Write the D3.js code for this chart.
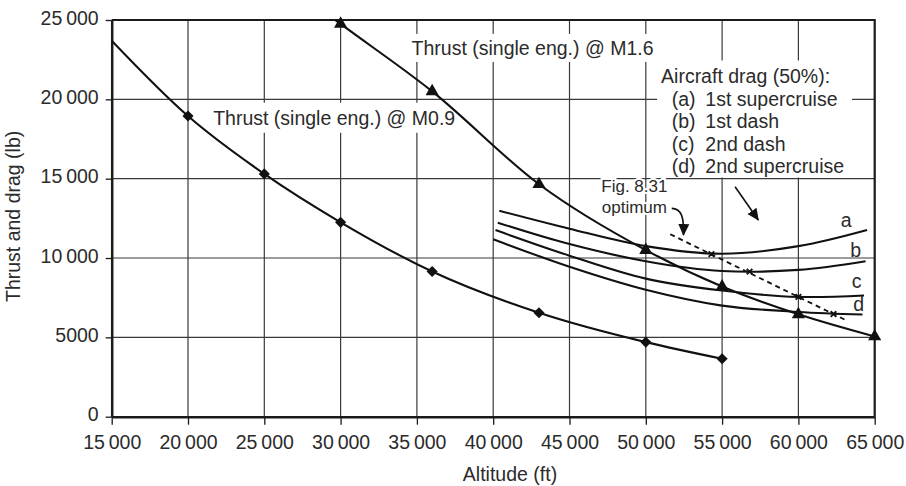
<!DOCTYPE html>
<html>
<head>
<meta charset="utf-8">
<style>
body { margin: 0; background: #fff; }
text { font-family: 'Liberation Sans', Arial, sans-serif; fill: #2b2b2b; }
</style>
</head>
<body>
<script src="https://cdnjs.cloudflare.com/ajax/libs/d3/7.8.5/d3.min.js"></script>
<script>
// axis ticks
const altTicks = [15000, 20000, 25000, 30000, 35000, 40000, 45000, 50000, 55000, 60000, 65000];
const forceTicks = [0, 5000, 10000, 15000, 20000, 25000];

// thrust curves (first point of each is the curve run out to the frame, no marker)
const m09Alt = [15000, 20000, 25000, 30000, 36000, 43000, 50000, 55000];
const m09Thrust = [23700, 18950, 15300, 12250, 9150, 6550, 4700, 3650];
const m16Alt = [29650, 30000, 36000, 43000, 50000, 55000, 60000, 65000];
const m16Thrust = [25000, 24750, 20500, 14650, 10500, 8200, 6450, 5050];

// aircraft drag (50%) curves a-d
const dragLetters = ["a", "b", "c", "d"];
const dragNames = ["1st supercruise", "1st dash", "2nd dash", "2nd supercruise"];
const dragAAlt = [40400, 45000, 50000, 55000, 60000, 64500];
const dragA = [12980, 11850, 10750, 10270, 10750, 11770];
const dragBAlt = [40300, 45000, 50000, 55000, 60000, 64400];
const dragB = [12230, 10880, 9800, 9180, 9250, 9800];
const dragCAlt = [40150, 45000, 50000, 55000, 60000, 64300];
const dragC = [11760, 10150, 8700, 7950, 7550, 7640];
const dragDAlt = [40000, 45000, 50000, 55000, 60000, 64200];
const dragD = [11180, 9450, 8000, 7000, 6600, 6440];

// Fig. 8.31 optimum line and its points
const optLineAlt = [51600, 63100];
const optLineDrag = [11500, 6090];
const optAlt = [54300, 56800, 60000, 62300];
const optDrag = [10250, 9140, 7550, 6470];

const W = 906, H = 486;
const margin = {top: 20, right: 31.3, bottom: 69.3, left: 111.7};

const x = d3.scaleLinear().domain([15000, 65000]).range([margin.left, W - margin.right]);
const y = d3.scaleLinear().domain([0, 25000]).range([H - margin.bottom, margin.top]);

const svg = d3.select("body").append("svg")
    .attr("width", W)
    .attr("height", H);

const defs = svg.append("defs");
defs.append("clipPath").attr("id", "plot")
  .append("rect")
    .attr("x", x(15000)).attr("y", y(25000))
    .attr("width", x(65000) - x(15000)).attr("height", y(0) - y(25000));
defs.append("marker")
    .attr("id", "head")
    .attr("markerUnits", "userSpaceOnUse")
    .attr("viewBox", "0 -6 12 12")
    .attr("refX", 11).attr("refY", 0)
    .attr("markerWidth", 12).attr("markerHeight", 12)
    .attr("orient", "auto")
  .append("path")
    .attr("d", "M0,-5.5L12,0L0,5.5Z")
    .attr("fill", "#111");

const fmt = d => d >= 10000 ? d3.format(",")(d).replace(",", "\u2009") : d3.format("d")(d);

// grid
svg.append("g").selectAll("line")
  .data(altTicks.slice(1, -1))
  .join("line")
    .attr("x1", d => x(d)).attr("x2", d => x(d))
    .attr("y1", y(0)).attr("y2", y(25000))
    .attr("stroke", "#3a3a3a").attr("stroke-width", 1.2);
svg.append("g").selectAll("line")
  .data(forceTicks.slice(1, -1))
  .join("line")
    .attr("x1", x(15000)).attr("x2", x(65000))
    .attr("y1", d => y(d)).attr("y2", d => y(d))
    .attr("stroke", "#3a3a3a").attr("stroke-width", 1.2);

// frame top / right
svg.append("path")
    .attr("d", `M${x(15000)},${y(25000)}H${x(65000)}V${y(0)}`)
    .attr("fill", "none").attr("stroke", "#1a1a1a").attr("stroke-width", 2.2);

// axes
const yAxis = svg.append("g")
    .attr("transform", `translate(${x(15000)},0)`)
    .call(d3.axisLeft(y).tickValues(forceTicks).tickFormat(fmt).tickSize(6).tickSizeOuter(0).tickPadding(7));
const xAxis = svg.append("g")
    .attr("transform", `translate(0,${y(0)})`)
    .call(d3.axisBottom(x).tickValues(altTicks).tickFormat(fmt).tickSize(8).tickSizeOuter(0).tickPadding(10));
[yAxis, xAxis].forEach(a => {
  a.select(".domain").attr("stroke", "#1a1a1a").attr("stroke-width", 2.5);
  a.selectAll(".tick line").attr("stroke", "#1a1a1a").attr("stroke-width", 1.3);
  a.selectAll("text").attr("font-size", "19.5px").attr("font-family", null).attr("fill", "#2b2b2b");
});
yAxis.selectAll("text").attr("dy", "0.22em");

svg.append("text")
    .attr("transform", "translate(19.5,302) rotate(-90)")
    .attr("font-size", "19.5px")
    .text("Thrust and drag (lb)");
svg.append("text")
    .attr("x", 510).attr("y", 481)
    .attr("text-anchor", "middle")
    .attr("font-size", "19.5px")
    .text("Altitude (ft)");

// labels with white backing boxes
function boxed(g, pad) {
  const b = g.node().getBBox();
  g.insert("rect", ":first-child")
      .attr("x", b.x - pad[3]).attr("y", b.y - pad[0])
      .attr("width", b.width + pad[1] + pad[3]).attr("height", b.height + pad[0] + pad[2])
      .attr("fill", "#fff");
}

const lab16 = svg.append("g");
lab16.append("text")
    .attr("x", x(34650)).attr("y", y(22800))
    .attr("font-size", "19.5px")
    .text("Thrust (single eng.) @ M1.6");
boxed(lab16, [3, 4, 3, 5]);

const lab09 = svg.append("g");
lab09.append("text")
    .attr("x", x(21650)).attr("y", y(18400))
    .attr("font-size", "19.5px")
    .text("Thrust (single eng.) @ M0.9");
boxed(lab09, [4, 8, 4, 8]);

const legend = svg.append("g");
legend.append("text")
    .attr("x", x(51000)).attr("y", y(21000))
    .attr("font-size", "19.5px")
    .text("Aircraft drag (50%):");
dragLetters.forEach((l, i) => {
  const row = legend.append("text")
      .attr("y", y(21000) + (i + 1) * 22.5)
      .attr("font-size", "19.5px");
  row.append("tspan").attr("x", x(51700)).text(`(${l})`);
  row.append("tspan").attr("x", x(53900)).text(dragNames[i]);
});
boxed(legend, [5, 8, 0, 4]);

const figLab = svg.append("g").attr("font-size", "17px").attr("text-anchor", "middle");
figLab.append("text").attr("x", x(49250)).attr("y", y(14150)).text("Fig. 8.31");
figLab.append("text").attr("x", x(49250)).attr("y", y(12850)).text("optimum");
figLab.selectAll("text")
    .attr("stroke", "#fff").attr("stroke-width", 4).attr("paint-order", "stroke");

// curves
const line = d3.line().x(d => x(d[0])).y(d => y(d[1])).curve(d3.curveMonotoneX);
const smooth = d3.line().x(d => x(d[0])).y(d => y(d[1])).curve(d3.curveCatmullRom.alpha(0.5));
const plot = svg.append("g").attr("clip-path", "url(#plot)");

const dragSeries = [[dragAAlt, dragA], [dragBAlt, dragB], [dragCAlt, dragC], [dragDAlt, dragD]];
plot.selectAll(".drag")
  .data(dragSeries)
  .join("path")
    .attr("class", "drag")
    .attr("d", s => smooth(d3.zip(s[0], s[1])))
    .attr("fill", "none").attr("stroke", "#111").attr("stroke-width", 2.1);

plot.append("path")
    .attr("d", line(d3.zip(m09Alt, m09Thrust)))
    .attr("fill", "none").attr("stroke", "#111").attr("stroke-width", 2.1);
plot.append("path")
    .attr("d", line(d3.zip(m16Alt, m16Thrust)))
    .attr("fill", "none").attr("stroke", "#111").attr("stroke-width", 2.1);

plot.append("path")
    .attr("d", d3.line().x(d => x(d[0])).y(d => y(d[1]))(d3.zip(optLineAlt, optLineDrag)))
    .attr("fill", "none").attr("stroke", "#111").attr("stroke-width", 1.8)
    .attr("stroke-dasharray", "5,4");

svg.append("g").selectAll("path")
  .data(d3.zip(optAlt, optDrag))
  .join("path")
    .attr("transform", d => `translate(${x(d[0])},${y(d[1])})`)
    .attr("d", d3.symbol(d3.symbolX, 22))
    .attr("fill", "none").attr("stroke", "#111").attr("stroke-width", 1.8);

svg.append("g").selectAll("path")
  .data(d3.zip(m09Alt, m09Thrust).slice(1))
  .join("path")
    .attr("transform", d => `translate(${x(d[0])},${y(d[1])}) rotate(45)`)
    .attr("d", d3.symbol(d3.symbolSquare, 62))
    .attr("fill", "#111");

svg.append("g").selectAll("path")
  .data(d3.zip(m16Alt, m16Thrust).slice(1))
  .join("path")
    .attr("transform", d => `translate(${x(d[0])},${y(d[1])})`)
    .attr("d", d3.symbol(d3.symbolTriangle, 75))
    .attr("fill", "#111");

// curve letters
const letterAt = [[62780, 11950], [63400, 10060], [63500, 8100], [63600, 6680]];
svg.append("g").selectAll("text")
  .data(dragLetters)
  .join("text")
    .attr("x", (d, i) => x(letterAt[i][0])).attr("y", (d, i) => y(letterAt[i][1]))
    .attr("font-size", "19.5px")
    .text(d => d);

// annotation arrows
const figArrow = [[51700, 13130], [52370, 13120], [52500, 12520], [52470, 11450]];
const legendArrow = [[55850, 14490], [57370, 12400]];
const fp = figArrow.map(p => [x(p[0]), y(p[1])]);
svg.append("path")
    .attr("d", `M${fp[0]}C${fp[1]} ${fp[2]} ${fp[3]}`)
    .attr("fill", "none").attr("stroke", "#111").attr("stroke-width", 1.6)
    .attr("marker-end", "url(#head)");
svg.append("path")
    .attr("d", d3.line().x(d => x(d[0])).y(d => y(d[1]))(legendArrow))
    .attr("fill", "none").attr("stroke", "#111").attr("stroke-width", 1.6)
    .attr("marker-end", "url(#head)");
</script>
</body>
</html>
